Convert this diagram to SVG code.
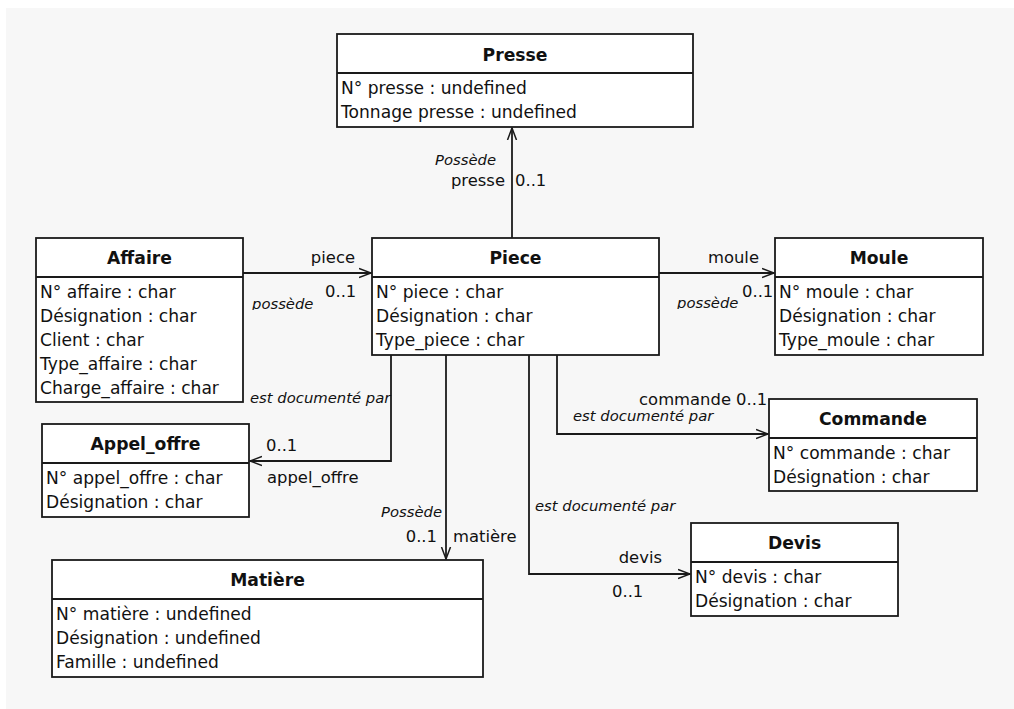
<svg xmlns="http://www.w3.org/2000/svg" width="1014" height="709" viewBox="0 0 1014 709">
<style>
.box{fill:#fff;stroke:#1a1a1a;stroke-width:1.8}
.div{stroke:#1a1a1a;stroke-width:1.8}
.title{font-family:"DejaVu Sans",Verdana,sans-serif;font-size:17.2px;font-weight:bold;fill:#111;text-anchor:middle}
.attr{font-family:"DejaVu Sans",Verdana,sans-serif;font-size:17.1px;fill:#111}
.lbl{font-family:"DejaVu Sans",Verdana,sans-serif;font-size:16.4px;fill:#111}
.it{font-family:"DejaVu Sans",Verdana,sans-serif;font-size:14.8px;font-style:italic;fill:#111}
.conn{fill:none;stroke:#1a1a1a;stroke-width:1.8}
</style>
<defs>
<marker id="open" markerUnits="userSpaceOnUse" markerWidth="14" markerHeight="12" refX="12" refY="6" orient="auto">
<path d="M0,1.5 L12,6 L0,10.5" fill="none" stroke="#1a1a1a" stroke-width="1.5"/>
</marker>
<clipPath id="clipA"><rect x="240" y="290" width="90" height="20"/></clipPath>
<clipPath id="clipB"><rect x="665" y="290" width="90" height="19"/></clipPath>
</defs>
<rect x="0" y="0" width="1014" height="709" fill="#fff"/>
<rect x="6" y="8" width="1008" height="701" fill="#f7f7f7"/>

<g id="connectors">
<path class="conn" d="M512,238 V128" marker-end="url(#open)"/>
<path class="conn" d="M243,273 H371" marker-end="url(#open)"/>
<path class="conn" d="M659,273 H774" marker-end="url(#open)"/>
<path class="conn" d="M391,355 V461 H250" marker-end="url(#open)"/>
<path class="conn" d="M446,355 V559" marker-end="url(#open)"/>
<path class="conn" d="M529,355 V574 H690" marker-end="url(#open)"/>
<path class="conn" d="M557,355 V434 H768" marker-end="url(#open)"/>
<text class="it" x="496" y="165" text-anchor="end">Possède</text>
<text class="lbl" x="505" y="186" text-anchor="end">presse</text>
<text class="lbl" x="515" y="186">0..1</text>
<text class="lbl" x="355" y="263" text-anchor="end">piece</text>
<text class="lbl" x="325" y="297">0..1</text>
<text class="it" x="252" y="309" clip-path="url(#clipA)">possède</text>
<text class="lbl" x="759" y="263" text-anchor="end">moule</text>
<text class="lbl" x="742" y="297">0..1</text>
<text class="it" x="677" y="308" clip-path="url(#clipB)">possède</text>
<text class="it" x="250" y="403">est documenté par</text>
<text class="lbl" x="266" y="451">0..1</text>
<text class="lbl" x="267" y="483">appel_offre</text>
<text class="it" x="442" y="517" text-anchor="end">Possède</text>
<text class="lbl" x="437" y="542" text-anchor="end">0..1</text>
<text class="lbl" x="453" y="542">matière</text>
<text class="it" x="535" y="511">est documenté par</text>
<text class="lbl" x="662" y="563" text-anchor="end">devis</text>
<text class="lbl" x="612" y="597">0..1</text>
<text class="lbl" x="731" y="405" text-anchor="end">commande</text>
<text class="lbl" x="736" y="405">0..1</text>
<text class="it" x="573" y="421">est documenté par</text>
</g>

<g id="presse">
<rect class="box" x="337" y="34" width="356" height="93"/>
<line class="div" x1="337" y1="73" x2="693" y2="73"/>
<text class="title" x="515" y="60.5">Presse</text>
<text class="attr" x="341" y="94">N° presse : undefined</text>
<text class="attr" x="341" y="118">Tonnage presse : undefined</text>
</g>

<g id="affaire">
<rect class="box" x="36" y="238" width="207" height="164"/>
<line class="div" x1="36" y1="277" x2="243" y2="277"/>
<text class="title" x="139.5" y="264">Affaire</text>
<text class="attr" x="40" y="298">N° affaire : char</text>
<text class="attr" x="40" y="322">Désignation : char</text>
<text class="attr" x="40" y="346">Client : char</text>
<text class="attr" x="40" y="370">Type_affaire : char</text>
<text class="attr" x="40" y="394">Charge_affaire : char</text>
</g>

<g id="piece">
<rect class="box" x="372" y="238" width="287" height="117"/>
<line class="div" x1="372" y1="277" x2="659" y2="277"/>
<text class="title" x="515.5" y="264">Piece</text>
<text class="attr" x="376" y="298">N° piece : char</text>
<text class="attr" x="376" y="322">Désignation : char</text>
<text class="attr" x="376" y="346">Type_piece : char</text>
</g>

<g id="moule">
<rect class="box" x="775" y="238" width="208" height="117"/>
<line class="div" x1="775" y1="277" x2="983" y2="277"/>
<text class="title" x="879" y="264">Moule</text>
<text class="attr" x="779" y="298">N° moule : char</text>
<text class="attr" x="779" y="322">Désignation : char</text>
<text class="attr" x="779" y="346">Type_moule : char</text>
</g>

<g id="commande">
<rect class="box" x="769" y="399" width="208" height="92"/>
<line class="div" x1="769" y1="438" x2="977" y2="438"/>
<text class="title" x="873" y="425">Commande</text>
<text class="attr" x="773" y="459">N° commande : char</text>
<text class="attr" x="773" y="483">Désignation : char</text>
</g>

<g id="appel_offre">
<rect class="box" x="42" y="424" width="207" height="93"/>
<line class="div" x1="42" y1="463" x2="249" y2="463"/>
<text class="title" x="145.5" y="450">Appel_offre</text>
<text class="attr" x="46" y="484">N° appel_offre : char</text>
<text class="attr" x="46" y="508">Désignation : char</text>
</g>

<g id="matiere">
<rect class="box" x="52" y="560" width="431" height="117"/>
<line class="div" x1="52" y1="599" x2="483" y2="599"/>
<text class="title" x="267.5" y="586">Matière</text>
<text class="attr" x="56" y="620">N° matière : undefined</text>
<text class="attr" x="56" y="644">Désignation : undefined</text>
<text class="attr" x="56" y="668">Famille : undefined</text>
</g>

<g id="devis">
<rect class="box" x="691" y="523" width="207" height="93"/>
<line class="div" x1="691" y1="562" x2="898" y2="562"/>
<text class="title" x="794.5" y="549">Devis</text>
<text class="attr" x="695" y="583">N° devis : char</text>
<text class="attr" x="695" y="607">Désignation : char</text>
</g>
</svg>
